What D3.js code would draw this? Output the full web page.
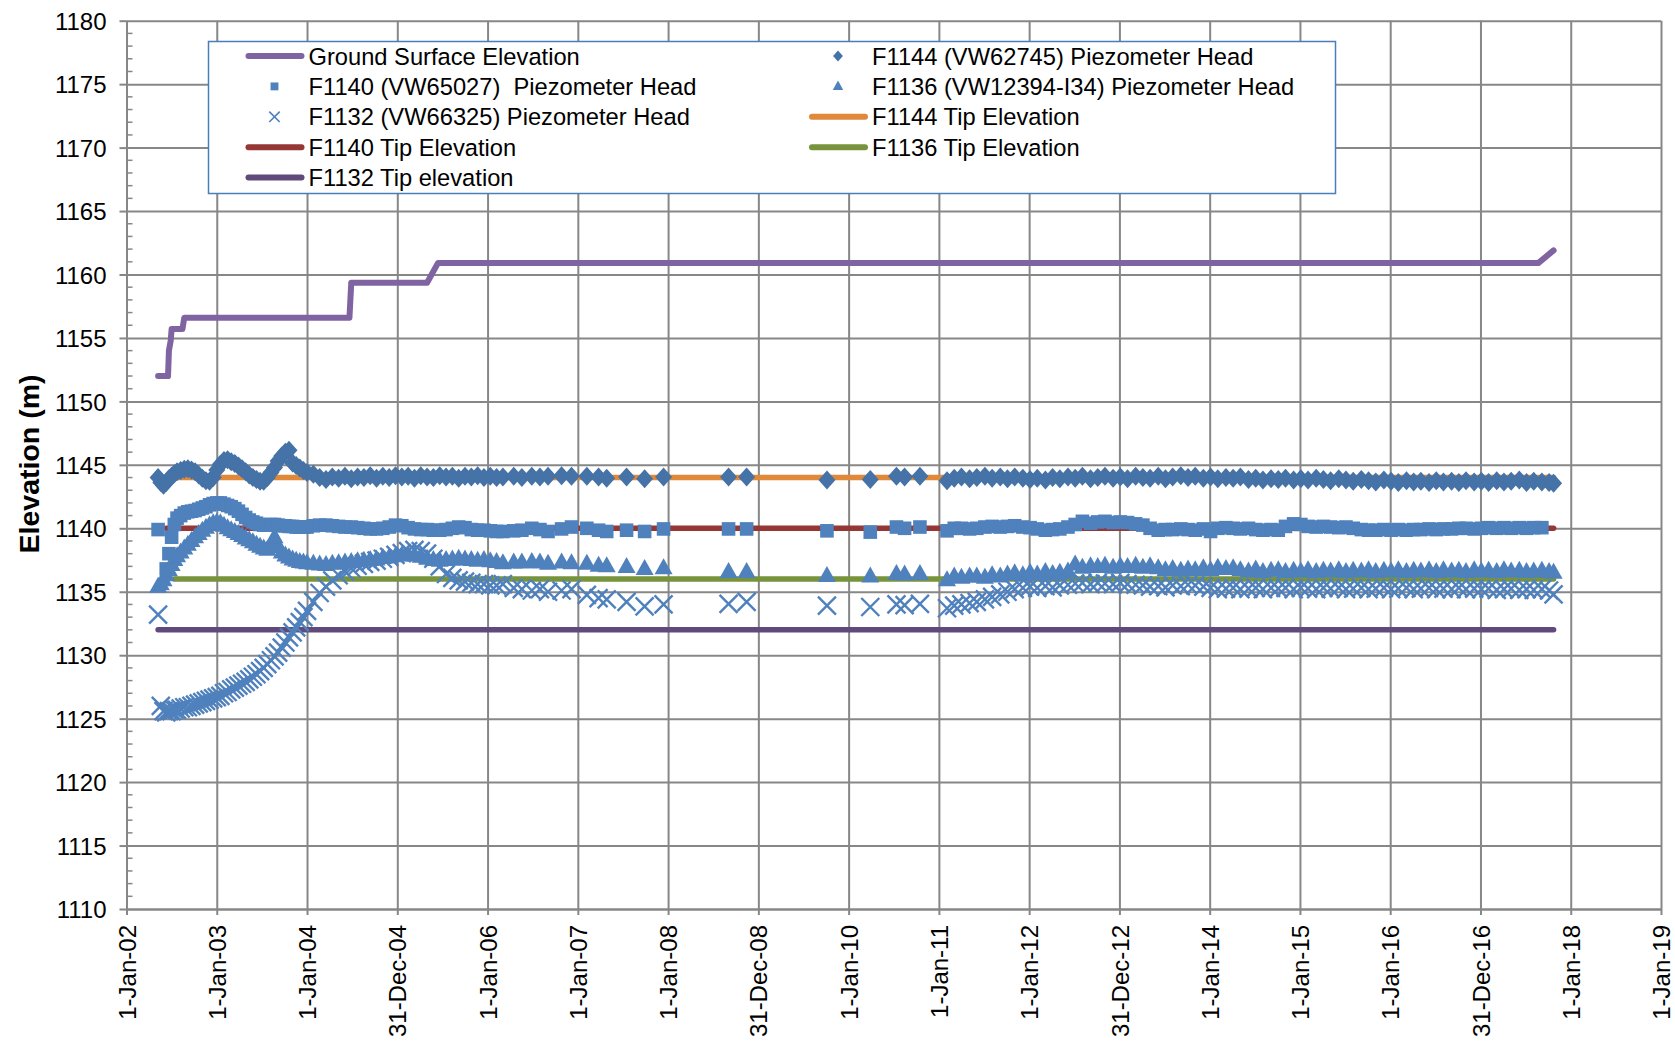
<!DOCTYPE html>
<html><head><meta charset="utf-8">
<script src="https://cdn.jsdelivr.net/npm/d3@7"></script>
<style>
html,body{margin:0;padding:0;background:#fff;}
svg{display:block;}
text{font-family:"Liberation Sans",Arial,Helvetica,sans-serif;fill:#000;}
</style>
</head><body>
<svg id="c" width="1675" height="1047"></svg>
<script>
// ---------- DATA ----------
const xTickLabels = ["1-Jan-02","1-Jan-03","1-Jan-04","31-Dec-04","1-Jan-06","1-Jan-07","1-Jan-08","31-Dec-08","1-Jan-10","1-Jan-11","1-Jan-12","31-Dec-12","1-Jan-14","1-Jan-15","1-Jan-16","31-Dec-16","1-Jan-18","1-Jan-19"];
const xTickYears = [2002,2003,2004,2005,2006,2007,2008,2009,2010,2011,2012,2013,2014,2015,2016,2017,2018,2019];
const yTicks = [1110,1115,1120,1125,1130,1135,1140,1145,1150,1155,1160,1165,1170,1175,1180];

// Ground surface elevation (decimal year, m)
const groundDates = [2002.35,2002.46,2002.47,2002.49,2002.50,2002.62,2002.64,2004.47,2004.49,2005.33,2005.45,2017.64,2017.81];
const groundElev  = [1152.0,1152.0,1154.0,1154.8,1155.7,1155.7,1156.6,1156.6,1159.35,1159.35,1160.9,1160.9,1161.9];

// Reading dates (decimal years) shared by the four piezometers
const readingDates = [
2002.35,2002.38,2002.41,2002.44,2002.47,2002.50,2002.53,2002.56,2002.60,2002.64,2002.68,2002.72,2002.76,2002.80,2002.84,2002.88,2002.92,2002.96,
2003.00,2003.04,2003.08,2003.12,2003.16,2003.20,2003.24,2003.28,2003.32,2003.36,2003.40,2003.44,2003.48,2003.52,2003.56,2003.60,2003.64,2003.68,2003.72,2003.76,2003.80,2003.84,2003.88,2003.92,2003.96,2004.00,
2004.07,2004.14,2004.21,2004.28,2004.35,2004.42,2004.49,2004.56,2004.63,2004.70,2004.77,2004.84,2004.91,2004.98,2005.05,2005.12,2005.19,2005.26,2005.33,2005.40,2005.47,2005.54,2005.61,2005.68,2005.75,2005.82,2005.89,2005.96,2006.03,2006.10,
2006.17,2006.29,2006.38,2006.49,2006.58,2006.67,2006.82,2006.93,2007.10,2007.23,2007.32,2007.54,2007.74,2007.95,2008.67,2008.87,2009.76,2010.24,2010.53,2010.62,2010.79,
2011.09,2011.17,2011.25,2011.34,2011.42,2011.51,2011.59,2011.68,2011.76,2011.84,2011.93,
2012.01,2012.09,2012.18,2012.26,2012.34,2012.43,2012.51,2012.59,2012.68,2012.76,2012.84,2012.93,
2013.01,2013.09,2013.18,2013.26,2013.34,2013.43,2013.51,2013.59,2013.68,2013.76,2013.84,2013.93,
2014.01,2014.09,2014.18,2014.26,2014.34,2014.43,2014.51,2014.59,2014.68,2014.76,2014.84,2014.93,
2015.01,2015.09,2015.18,2015.26,2015.34,2015.43,2015.51,2015.59,2015.68,2015.76,2015.84,2015.93,
2016.01,2016.09,2016.18,2016.26,2016.34,2016.43,2016.51,2016.59,2016.68,2016.76,2016.84,2016.93,
2017.01,2017.09,2017.18,2017.26,2017.34,2017.43,2017.51,2017.59,2017.68,2017.76,2017.81];

const f1144Head = [
1144.0,1143.6,1143.4,1143.6,1143.9,1144.1,1144.3,1144.45,1144.55,1144.65,1144.7,1144.6,1144.45,1144.2,1143.95,1143.75,1143.7,1144.0,
1144.6,1145.05,1145.35,1145.4,1145.25,1145.1,1144.9,1144.7,1144.45,1144.2,1144.0,1143.85,1143.7,1143.7,1144.0,1144.4,1144.8,1145.3,1145.7,1146.0,1146.15,1145.15,1144.95,1144.75,1144.55,1144.4,
1144.25,1144.0,1143.85,1144.05,1143.95,1144.1,1143.9,1144.05,1144.0,1144.15,1143.95,1144.1,1144.0,1144.15,1144.05,1144.1,1143.95,1144.15,1144.05,1144.0,1144.15,1144.05,1144.1,1143.95,1144.1,1144.05,1144.15,1144.0,1144.1,1144.0,
1144.05,1144.1,1144.0,1144.1,1144.05,1144.1,1144.15,1144.1,1144.1,1144.05,1143.95,1144.05,1143.9,1144.05,1144.05,1144.05,1143.8,1143.85,1144.1,1144.05,1144.1,
1143.75,1143.95,1144.05,1143.9,1144.0,1144.1,1143.95,1144.05,1143.9,1144.05,1143.95,
1143.85,1143.95,1143.8,1144.0,1143.9,1144.05,1143.95,1144.1,1143.9,1144.0,1144.1,1143.95,
1144.05,1143.9,1144.1,1144.0,1143.95,1144.1,1143.9,1144.05,1144.15,1144.0,1144.1,1143.95,
1144.05,1143.9,1144.0,1143.95,1144.05,1143.85,1143.95,1143.8,1143.9,1143.85,1143.95,1143.8,
1143.9,1143.8,1143.95,1143.85,1143.75,1143.9,1143.8,1143.7,1143.85,1143.75,1143.65,1143.8,
1143.7,1143.6,1143.75,1143.65,1143.7,1143.6,1143.75,1143.65,1143.7,1143.6,1143.75,1143.65,
1143.7,1143.6,1143.75,1143.65,1143.7,1143.8,1143.6,1143.7,1143.65,1143.6,1143.55];

const f1140Head = [
1139.9,null,null,1136.8,1138.0,1139.3,1140.3,1140.8,1141.0,1141.2,1141.3,1141.35,1141.4,1141.5,1141.6,1141.7,1141.85,1141.95,
1142.0,1142.0,1141.9,1141.8,1141.7,1141.55,1141.35,1141.1,1140.85,1140.65,1140.5,1140.4,1140.3,1140.25,1140.25,1140.3,1140.3,1140.25,1140.2,1140.2,1140.15,1140.15,1140.1,1140.1,1140.1,1140.1,
1140.2,1140.25,1140.25,1140.2,1140.15,1140.1,1140.1,1140.05,1140.0,1139.95,1139.95,1140.0,1140.1,1140.25,1140.2,1140.05,1139.95,1139.9,1139.9,1139.85,1139.85,1139.9,1140.0,1140.1,1140.05,1139.9,1139.85,1139.85,1139.8,1139.75,
1139.75,1139.8,1139.85,1140.0,1139.9,1139.75,1139.95,1140.1,1140.0,1139.85,1139.75,1139.85,1139.75,1139.95,1139.95,1139.95,1139.8,1139.7,1140.1,1140.0,1140.1,
1139.8,1140.0,1140.0,1139.95,1140.0,1140.1,1140.15,1140.1,1140.15,1140.2,1140.1,
1140.05,1139.95,1139.85,1139.9,1139.95,1140.1,1140.3,1140.55,1140.4,1140.5,1140.55,1140.45,
1140.5,1140.45,1140.35,1140.25,1140.0,1139.85,1139.9,1139.9,1139.95,1139.9,1139.85,1139.95,
1139.75,1140.0,1140.05,1140.0,1139.95,1140.0,1139.9,1139.85,1139.9,1139.85,1140.15,1140.35,
1140.3,1140.15,1140.1,1140.15,1140.1,1140.05,1140.1,1140.0,1139.9,1139.85,1139.85,1139.9,
1139.85,1139.9,1139.85,1139.9,1139.9,1139.95,1139.9,1139.95,1139.95,1140.0,1140.0,1139.95,
1140.0,1140.05,1140.0,1140.05,1140.0,1140.05,1140.0,1140.05,1140.05,null,null];

const f1136Head = [
1135.4,1135.6,1135.9,1136.3,1136.7,1137.1,1137.5,1137.8,1138.1,1138.4,1138.7,1139.0,1139.3,1139.55,1139.8,1140.05,1140.25,1140.4,
1140.45,1140.4,1140.2,1140.0,1139.85,1139.7,1139.55,1139.4,1139.2,1139.05,1138.9,1138.7,1138.55,1138.4,1138.3,1138.6,1139.3,1138.5,1138.1,1137.85,1137.7,1137.55,1137.45,1137.35,1137.3,1137.25,
1137.2,1137.15,1137.1,1137.2,1137.25,1137.3,1137.35,1137.4,1137.45,1137.5,1137.55,1137.65,1137.7,1137.8,1137.85,1137.9,1137.85,1137.75,1137.6,1137.5,1137.45,1137.5,1137.55,1137.6,1137.55,1137.5,1137.45,1137.5,1137.4,1137.35,
1137.25,1137.3,1137.3,1137.35,1137.3,1137.2,1137.3,1137.25,1137.2,1137.05,1137.0,1136.95,1136.8,1136.85,1136.55,1136.55,1136.25,1136.2,1136.4,1136.35,1136.4,
1135.9,1136.2,1136.1,1136.2,1136.2,1136.1,1136.3,1136.2,1136.35,1136.45,1136.3,
1136.5,1136.35,1136.55,1136.4,1136.5,1136.6,1137.15,1136.9,1137.0,1136.95,1137.05,1136.9,
1137.0,1136.95,1137.05,1136.9,1137.0,1136.85,1136.7,1136.8,1136.65,1136.75,1136.7,1136.85,
1136.7,1136.9,1136.8,1136.85,1136.7,1136.6,1136.75,1136.55,1136.65,1136.7,1136.55,1136.65,
1136.6,1136.7,1136.55,1136.65,1136.6,1136.7,1136.55,1136.65,1136.6,1136.7,1136.55,1136.65,
1136.6,1136.7,1136.55,1136.65,1136.6,1136.7,1136.55,1136.7,1136.6,1136.65,1136.55,1136.7,
1136.6,1136.65,1136.55,1136.7,1136.6,1136.65,1136.55,1136.6,1136.65,1136.55,1136.5];

const f1132Head = [
1133.2,1126.0,1125.6,1125.5,1125.6,1125.6,1125.7,1125.7,1125.8,1125.9,1125.9,1126.0,1126.1,1126.2,1126.3,1126.4,1126.5,1126.6,
1126.7,1126.8,1127.0,1127.1,1127.3,1127.45,1127.6,1127.75,1127.9,1128.1,1128.3,1128.5,1128.75,1129.0,1129.3,1129.6,1129.9,1130.2,1130.6,1131.0,1131.4,1131.8,1132.2,1132.6,1133.0,1133.5,
1134.2,1134.9,1135.4,1135.9,1136.3,1136.6,1136.85,1137.05,1137.2,1137.35,1137.45,1137.6,1137.75,1137.9,1138.05,1138.2,1138.3,1138.2,1138.0,1137.6,1137.0,1136.4,1136.1,1135.9,1135.8,1135.7,1135.6,1135.6,1135.5,1135.5,
1135.6,1135.3,1135.2,1135.1,1135.2,1135.0,1135.1,1135.2,1134.75,1134.5,1134.4,1134.2,1133.85,1134.0,1134.05,1134.2,1133.9,1133.8,1134.0,1133.95,1134.05,
1133.7,1133.9,1134.0,1134.1,1134.2,1134.4,1134.6,1134.8,1135.0,1135.2,1135.3,
1135.4,1135.3,1135.45,1135.35,1135.5,1135.55,1135.65,1135.7,1135.6,1135.7,1135.65,1135.6,
1135.7,1135.6,1135.55,1135.5,1135.4,1135.45,1135.35,1135.5,1135.45,1135.55,1135.5,1135.4,
1135.3,1135.2,1135.25,1135.3,1135.2,1135.25,1135.3,1135.2,1135.3,1135.25,1135.3,1135.2,
1135.3,1135.25,1135.2,1135.3,1135.25,1135.3,1135.2,1135.25,1135.3,1135.2,1135.25,1135.3,
1135.2,1135.25,1135.3,1135.2,1135.25,1135.3,1135.2,1135.25,1135.2,1135.3,1135.2,1135.25,
1135.2,1135.25,1135.15,1135.2,1135.25,1135.15,1135.2,1135.15,1135.2,1135.1,1134.8];

// Tip elevations
const tipNames  = ["F1144 Tip Elevation","F1140 Tip Elevation","F1136 Tip Elevation","F1132 Tip elevation"];
const tipElev   = [1144.0,1140.0,1136.0,1132.0];
const tipStart  = [2002.44,2002.44,2002.53,2002.35];
const tipEnd    = [2017.81,2017.81,2017.81,2017.81];

// ---------- CHART ----------
const svg = d3.select("#c");
const x = d3.scaleLinear().domain([2002,2019]).range([126.5,1661]);
const y = d3.scaleLinear().domain([1110,1180]).range([909,20.7]);
const GRID = "#878787";
const FONT = 24;
const LEGEND_FONT = 23.7;

// gridlines
svg.append("g").attr("transform",`translate(${x(2002)},0)`)
  .call(d3.axisLeft(y).tickValues(yTicks).tickSize(-(x(2019)-x(2002))).tickFormat(""))
  .call(g=>{g.select(".domain").remove();g.selectAll("line").attr("stroke",GRID).attr("stroke-width",2);});
svg.append("g").attr("transform",`translate(0,${y(1110)})`)
  .call(d3.axisBottom(x).tickValues(xTickYears).tickSize(-(y(1110)-y(1180))).tickFormat(""))
  .call(g=>{g.select(".domain").remove();g.selectAll("line").attr("stroke",GRID).attr("stroke-width",2);});

// y axis with labels
const yAx = svg.append("g").attr("transform",`translate(${x(2002)},0)`)
  .call(d3.axisLeft(y).tickValues(yTicks).tickSize(7).tickSizeOuter(0).tickPadding(13).tickFormat(d3.format("d")));
yAx.select(".domain").attr("stroke",GRID).attr("stroke-width",2);
yAx.selectAll(".tick line").attr("stroke",GRID).attr("stroke-width",2);
yAx.selectAll(".tick text").style("font-size",FONT+"px").attr("fill","#000").attr("dy","0.36em");
// minor ticks (inside)
const minor = d3.range(1110,1181,1).filter(v=>v%5!==0);
svg.append("g").selectAll("line").data(minor).join("line")
  .attr("x1",x(2002)).attr("x2",x(2002)+6).attr("y1",d=>y(d)).attr("y2",d=>y(d))
  .attr("stroke",GRID).attr("stroke-width",1.5);

// x axis with labels
const xAx = svg.append("g").attr("transform",`translate(0,${y(1110)})`)
  .call(d3.axisBottom(x).tickValues(xTickYears).tickSize(6).tickSizeOuter(0).tickFormat((d,i)=>xTickLabels[i]));
xAx.select(".domain").attr("stroke",GRID).attr("stroke-width",2);
xAx.selectAll(".tick line").attr("stroke",GRID).attr("stroke-width",2);
xAx.selectAll(".tick text").style("font-size",FONT+"px").attr("fill","#000")
  .attr("transform","rotate(-90)").attr("x",-16).attr("y",0).attr("dy","0.36em").style("text-anchor","end");

// y title
svg.append("text").attr("transform",`translate(39,464) rotate(-90)`)
  .attr("text-anchor","middle").style("font-size","28.5px").style("font-weight","bold").text("Elevation (m)");

// lines
const line = d3.line().x(d=>x(d[0])).y(d=>y(d[1]));
const plot = svg.append("g");
plot.append("path").datum(groundDates.map((d,i)=>[d,groundElev[i]]))
  .attr("d",line).attr("fill","none").attr("stroke","#8064a2").attr("stroke-width",6)
  .attr("stroke-linejoin","round").attr("stroke-linecap","round");
const tipColors = ["#e0893b","#953735","#77933c","#604a7b"];
tipElev.forEach((v,i)=>{
  plot.append("path").datum([[tipStart[i],v],[tipEnd[i],v]]).attr("d",line)
    .attr("fill","none").attr("stroke",tipColors[i]).attr("stroke-width",5.5).attr("stroke-linecap","round");
});

// markers
const shapes = {
  diamond: s=>`M0,${-9.5*s}L${8.5*s},0L0,${9.5*s}L${-8.5*s},0Z`,
  square:  s=>`M${-6.8*s},${-6.8*s}h${13.6*s}v${13.6*s}h${-13.6*s}Z`,
  triangle:s=>`M0,${-10*s}L${9*s},${6*s}L${-9*s},${6*s}Z`,
  cross:   s=>`M${-9*s},${-9*s}L${9*s},${9*s}M${-9*s},${9*s}L${9*s},${-9*s}`
};
function drawMarkers(vals, shape, color){
  const pts = readingDates.map((d,i)=>[d,vals[i]]).filter(p=>p[1]!==null);
  const g = plot.append("g");
  g.selectAll("path").data(pts).join("path")
    .attr("transform",p=>`translate(${x(p[0])},${y(p[1])})`)
    .attr("d",shapes[shape](1))
    .attr("fill",shape==="cross"?"none":color)
    .attr("stroke",color).attr("stroke-width",shape==="cross"?2.4:0);
}
drawMarkers(f1144Head,"diamond","#4572a7");
drawMarkers(f1140Head,"square","#4f81bd");
drawMarkers(f1136Head,"triangle","#4f81bd");
drawMarkers(f1132Head,"cross","#4f81bd");

// legend
const legendItems = [
  {label:"Ground Surface Elevation", type:"line", color:"#8064a2"},
  {label:"F1144 (VW62745) Piezometer Head", type:"diamond", color:"#4572a7"},
  {label:"F1140 (VW65027)  Piezometer Head", type:"square", color:"#4f81bd"},
  {label:"F1136 (VW12394-I34) Piezometer Head", type:"triangle", color:"#4f81bd"},
  {label:"F1132 (VW66325) Piezometer Head", type:"cross", color:"#4f81bd"},
  {label:tipNames[0], type:"line", color:tipColors[0]},
  {label:tipNames[1], type:"line", color:tipColors[1]},
  {label:tipNames[2], type:"line", color:tipColors[2]},
  {label:tipNames[3], type:"line", color:tipColors[3]}
];
const lg = svg.append("g");
lg.append("rect").attr("x",208.5).attr("y",41.5).attr("width",1127).attr("height",152)
  .attr("fill","#fff").attr("stroke","#4a7ebb").attr("stroke-width",1.5);
const colX = [245.5, 809];
legendItems.forEach((it,i)=>{
  const col = i%2, row = Math.floor(i/2);
  const cy = 56 + row*30.4;
  const x0 = colX[col];
  const g = lg.append("g");
  if(it.type==="line"){
    g.append("line").attr("x1",x0+3).attr("x2",x0+56).attr("y1",cy).attr("y2",cy)
      .attr("stroke",it.color).attr("stroke-width",6).attr("stroke-linecap","round");
  } else {
    g.append("path").attr("transform",`translate(${x0+29},${cy})`)
      .attr("d",shapes[it.type](0.58))
      .attr("fill",it.type==="cross"?"none":it.color).attr("stroke",it.color)
      .attr("stroke-width",it.type==="cross"?1.6:0);
  }
  g.append("text").attr("x",x0+63).attr("y",cy).attr("dy","0.36em")
    .style("font-size",LEGEND_FONT+"px").style("white-space","pre").attr("xml:space","preserve").text(it.label);
});
</script>
</body></html>
